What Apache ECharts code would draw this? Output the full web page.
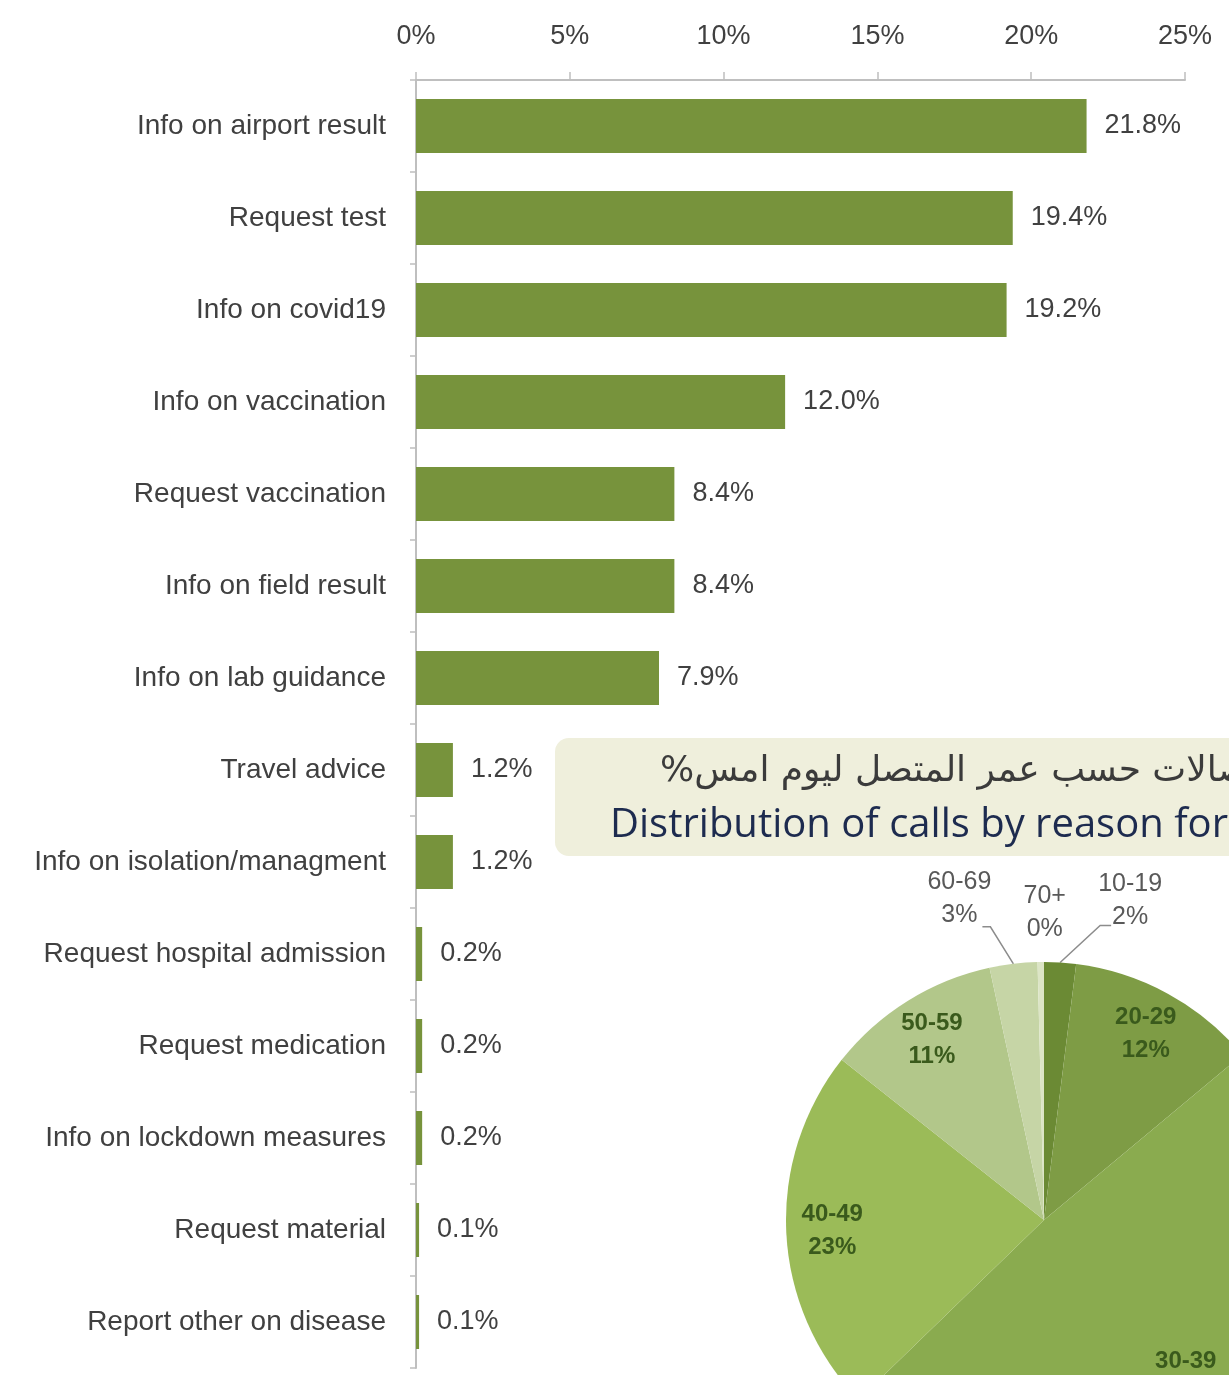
<!DOCTYPE html>
<html>
<head>
<meta charset="utf-8">
<script src="https://cdn.jsdelivr.net/npm/echarts@6/dist/echarts.min.js"></script>
<style>
  html, body { margin: 0; padding: 0; background: #ffffff; }
  #chart { width: 1229px; height: 1375px; }
</style>
</head>
<body>
<div id="chart"></div>
<script>
// Call reasons (share of calls, %)
const reasons = [
  'Info on airport result',
  'Request test',
  'Info on covid19',
  'Info on vaccination',
  'Request vaccination',
  'Info on field result',
  'Info on lab guidance',
  'Travel advice',
  'Info on isolation/managment',
  'Request hospital admission',
  'Request medication',
  'Info on lockdown measures',
  'Request material',
  'Report other on disease'
];
const reasonShares = [21.8, 19.4, 19.2, 12.0, 8.4, 8.4, 7.9, 1.2, 1.2, 0.2, 0.2, 0.2, 0.1, 0.1];

// Share axis ticks (%)
const shareMin = 0;
const shareMax = 25;
const shareStep = 5;

// Caller age groups (share of calls, %)
const ageGroups = ['10-19', '20-29', '30-39', '40-49', '50-59', '60-69', '70+'];
const ageShares = [2, 12, 49, 23, 11, 3, 0.4];
const ageColors = ['#6b8a34', '#7e9c45', '#8aab4f', '#9bbb58', '#b2c78a', '#c6d5a6', '#dce5c6'];
const ageLabelsOutside = ['10-19', '60-69', '70+'];

const titleArabic = 'نسبة الاتصالات حسب عمر المتصل ليوم امس%\u200F';
const titleEnglish = 'Distribution of calls by reason for call';

const FONT = '"Liberation Sans", Arial, sans-serif';
const TEXT = '#404040';

// Offsets of the outside labels from the end of their leader lines
const outsideNudge = {
  '10-19': { bend: [40, -37], run: 11, text: [19, -25], line: true },
  '60-69': { bend: [-23, -37], run: -8, text: [-23, -28], line: true },
  '70+':   { bend: [0, 0], run: 0, text: [4, -49], line: false }
};

const chart = echarts.init(document.getElementById('chart'), null, { renderer: 'canvas' });

const pctLabel = v => Math.round(v) + '%';

const option = {
  backgroundColor: '#ffffff',
  animation: false,
  grid: { left: 416, top: 80, right: 44, bottom: 7, containLabel: false },
  xAxis: {
    type: 'value',
    position: 'top',
    min: shareMin,
    max: shareMax,
    interval: shareStep,
    axisLine: { show: true, lineStyle: { color: '#bfbfbf', width: 2 } },
    axisTick: { show: true, length: 8, lineStyle: { color: '#bfbfbf', width: 1.5 } },
    splitLine: { show: false },
    axisLabel: {
      formatter: '{value}%',
      fontFamily: FONT,
      fontSize: 27,
      color: TEXT,
      margin: 30
    }
  },
  yAxis: {
    type: 'category',
    data: reasons,
    inverse: true,
    axisLine: { show: true, lineStyle: { color: '#bfbfbf', width: 2 } },
    axisTick: { show: true, length: 6, lineStyle: { color: '#bfbfbf', width: 1.5 } },
    axisLabel: {
      fontFamily: FONT,
      fontSize: 28,
      color: TEXT,
      margin: 30,
      padding: [6, 0, 0, 0]
    }
  },
  graphic: [
    {
      type: 'rect',
      z: 10,
      shape: { x: 555, y: 738, width: 740, height: 118, r: 14 },
      style: { fill: '#efefdc' }
    },
    {
      type: 'text',
      z: 11,
      style: {
        x: 660, y: 772,
        text: titleArabic,
        font: '36px "DejaVu Sans", sans-serif',
        fill: '#3b3b3b',
        align: 'left',
        verticalAlign: 'middle'
      }
    },
    {
      type: 'text',
      z: 11,
      style: {
        x: 610, y: 826,
        text: titleEnglish,
        font: '40px "Open Sans", Lato, sans-serif',
        fill: '#1d2b4f',
        align: 'left',
        verticalAlign: 'middle'
      }
    }
  ],
  series: [
    {
      type: 'bar',
      data: reasonShares,
      barWidth: 54,
      itemStyle: { color: '#77933c' },
      label: {
        show: true,
        position: 'right',
        distance: 18,
        formatter: p => p.value.toFixed(1) + '%',
        fontFamily: FONT,
        fontSize: 27,
        color: TEXT,
        padding: [6, 0, 0, 0]
      }
    },
    {
      // age pie with the outside labels
      type: 'pie',
      z: 20,
      center: [1044, 1220],
      radius: 258,
      startAngle: 90,
      clockwise: true,
      avoidLabelOverlap: false,
      silent: true,
      data: ageGroups.map((g, i) => ({
        name: g,
        value: ageShares[i],
        itemStyle: { color: ageColors[i] },
        label: { show: ageLabelsOutside.includes(g) },
        labelLine: { show: ageLabelsOutside.includes(g) && outsideNudge[g].line }
      })),
      label: {
        position: 'outside',
        formatter: p => '{t|' + p.name + '}\n{t|' + pctLabel(p.value) + '}',
        rich: {
          t: {
            fontFamily: FONT,
            fontSize: 25,
            color: '#595959',
            width: 72,
            align: 'center',
            lineHeight: 33
          }
        }
      },
      labelLine: {
        length: 40,
        length2: 10,
        lineStyle: { color: '#8c8c8c', width: 1.5 }
      },
      labelLayout: params => {
        const name = ageGroups[params.dataIndex];
        const n = outsideNudge[name];
        if (!n || !params.labelLinePoints) return {};
        const p0 = params.labelLinePoints[0];
        const p1 = [p0[0] + n.bend[0], p0[1] + n.bend[1]];
        const p2 = [p1[0] + n.run, p1[1]];
        const out = {
          x: p2[0] + n.text[0],
          y: p2[1] + n.text[1],
          align: 'center',
          verticalAlign: 'middle'
        };
        if (n.line) out.labelLinePoints = [p0, p1, p2];
        return out;
      }
    },
    {
      // transparent ring that carries the inside labels of the larger slices
      type: 'pie',
      z: 21,
      center: [1044, 1220],
      radius: [160, 258],
      startAngle: 90,
      clockwise: true,
      silent: true,
      avoidLabelOverlap: false,
      data: ageGroups.map((g, i) => ({
        name: g,
        value: ageShares[i],
        itemStyle: { color: 'rgba(0,0,0,0)' },
        label: { show: !ageLabelsOutside.includes(g) }
      })),
      label: {
        position: 'inside',
        formatter: p => p.name + '\n' + pctLabel(p.value),
        fontFamily: FONT,
        fontSize: 24,
        fontWeight: 'bold',
        lineHeight: 33,
        color: '#3a5a1c'
      },
      labelLine: { show: false }
    }
  ]
};

chart.setOption(option);
</script>
</body>
</html>
